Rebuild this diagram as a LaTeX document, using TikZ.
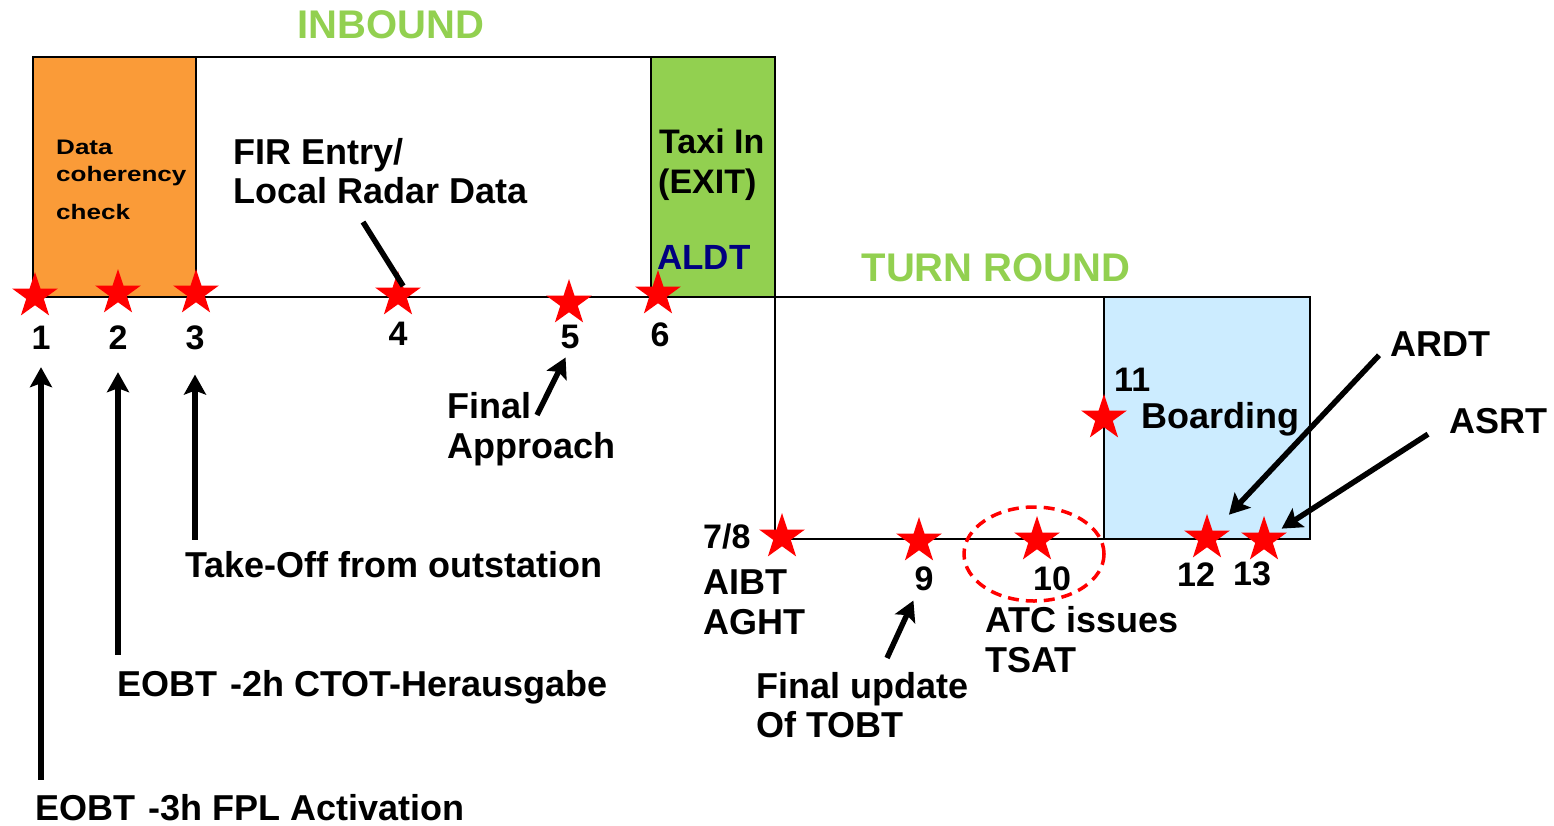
\documentclass[tikz,border=0pt]{standalone}
\usepackage{fontspec}
\setmainfont{Liberation Sans}
\usetikzlibrary{shapes.geometric,arrows.meta}
\definecolor{dcorange}{RGB}{250,155,56}
\definecolor{phasegreen}{RGB}{146,208,80}
\definecolor{boardblue}{RGB}{204,236,255}
\definecolor{aldtblue}{RGB}{0,0,128}
\tikzset{
  lbl/.style={inner sep=0pt, anchor=base west, font=\fontsize{36}{40}\selectfont\bfseries},
  num/.style={inner sep=0pt, anchor=base, font=\fontsize{34}{40}\selectfont\bfseries},
  phase/.style={inner sep=0pt, anchor=base, text=phasegreen, font=\fontsize{40}{46}\selectfont\bfseries},
  smalllbl/.style={inner sep=0pt, anchor=base west, font=\fontsize{21}{25}\selectfont\bfseries\addfontfeatures{FakeStretch=1.24}},
  milestone/.style={star, star points=5, star point ratio=2.6, minimum size=48pt, inner sep=0pt, fill=red},
  boxline/.style={line width=2.5pt},
  bigarrow/.style={line width=5.5pt, -{Stealth[length=20pt,width=22pt,inset=4pt]}},
}
\begin{document}
\begin{tikzpicture}[x=1pt,y=-1pt]
\useasboundingbox (0,0) rectangle (1554,825);
% phases
\fill[dcorange] (33,57) rectangle (196,297);
\fill[phasegreen] (651,57) rectangle (775,297);
\fill[boardblue] (1104,297) rectangle (1310,539);
\draw[boxline] (33,57) rectangle (775,297);
\draw[boxline] (196,57) -- (196,297) (651,57) -- (651,297);
\draw[boxline] (775,297) rectangle (1310,539);
\draw[boxline] (1104,297) -- (1104,539);
\node[phase] (inb) at (391,38) {INBOUND};
\node[phase] (trn) at (996,281) {TURN ROUND};
% milestones
\node[milestone] (s1) at (35,296) {};
\node[milestone] (s2) at (118,293) {};
\node[milestone] (s3) at (196,293) {};
\node[milestone] (s4) at (398,295) {};
\node[milestone] (s5) at (569,303) {};
\node[milestone] (s6) at (658,294) {};
\node[milestone] (s78) at (782,537) {};
\node[milestone] (s9) at (919,541) {};
\node[milestone] (s10) at (1037,540) {};
\node[milestone] (s11) at (1104,418) {};
\node[milestone] (s12) at (1207,538) {};
\node[milestone] (s13) at (1264,540) {};
\draw[red, line width=3.5pt, dash pattern=on 11pt off 7pt] (1034,554) ellipse [x radius=70, y radius=47];
% numbers
\node[num] (n1) at (41,349) {1};
\node[num] (n2) at (118,349) {2};
\node[num] (n3) at (195,349) {3};
\node[num] (n4) at (398,345) {4};
\node[num] (n5) at (570,348) {5};
\node[num] (n6) at (660,346) {6};
\node[num, anchor=base west] (n78) at (703,548) {7/8};
\node[num] (n9) at (924,590) {9};
\node[num] (n10) at (1052,590) {10};
\node[num, anchor=base west] (n11) at (1114,391) {11};
\node[num] (n12) at (1196,586) {12};
\node[num] (n13) at (1252,585) {13};
% labels
\node[smalllbl] (dc1) at (56,154) {Data};
\node[smalllbl] (dc2) at (56,181) {coherency};
\node[smalllbl] (dc3) at (56,219) {check};
\node[lbl] (fir1) at (233,164) {FIR Entry/};
\node[lbl] (fir2) at (233,203) {Local Radar Data};
\node[lbl, font=\fontsize{34}{40}\selectfont\bfseries] (taxi1) at (659,153) {Taxi In};
\node[lbl, font=\fontsize{34}{40}\selectfont\bfseries] (taxi2) at (658,193) {(EXIT)};
\node[lbl, font=\fontsize{35}{40}\selectfont\bfseries, text=aldtblue] (aldt) at (657,269) {ALDT};
\node[lbl] (fa1) at (447,418) {Final};
\node[lbl] (fa2) at (447,458) {Approach};
\node[lbl] (l3) at (185,577) {Take-Off from outstation};
\node[lbl] (l2) at (117,696) {EOBT \kern3pt-2h CTOT-Herausgabe};
\node[lbl] (l1) at (35,820) {EOBT \kern3pt-3h FPL Activation};
\node[lbl] (aibt) at (703,594) {AIBT};
\node[lbl] (aght) at (703,634) {AGHT};
\node[lbl] (atc1) at (985,632) {ATC issues};
\node[lbl] (atc2) at (985,672) {TSAT};
\node[lbl] (fu1) at (756,698) {Final update};
\node[lbl] (fu2) at (756,737) {Of TOBT};
\node[lbl] (board) at (1141,428) {Boarding};
\node[lbl] (ardt) at (1390,356) {ARDT};
\node[lbl] (asrt) at (1449,433) {ASRT};
% arrows
\coordinate (firtail) at (363,222);
\coordinate (fatail) at (537,415);
\coordinate (futail) at (887,658);
\draw[bigarrow, shorten <=14pt, shorten >=18pt] (l1.north -| n1) -- (n1.south);
\draw[bigarrow, shorten <=15pt, shorten >=23pt] (l2.north -| n2) -- (n2.south);
\draw[bigarrow, shorten <=11pt, shorten >=25pt] (l3.north -| n3) -- (n3.south);
\draw[line width=5.5pt] (firtail) -- (s4.60);
\draw[bigarrow, shorten >=10pt] (fatail) -- (n5.south);
\draw[bigarrow, shorten >=11pt] (futail) -- ([xshift=-6pt]n9.south);
\draw[bigarrow, shorten <=16pt, shorten >=32pt] (ardt.west) -- (s12.center);
\draw[bigarrow, shorten <=25pt, shorten >=21pt] (asrt.west) -- (s13.center);
\end{tikzpicture}
\end{document}
